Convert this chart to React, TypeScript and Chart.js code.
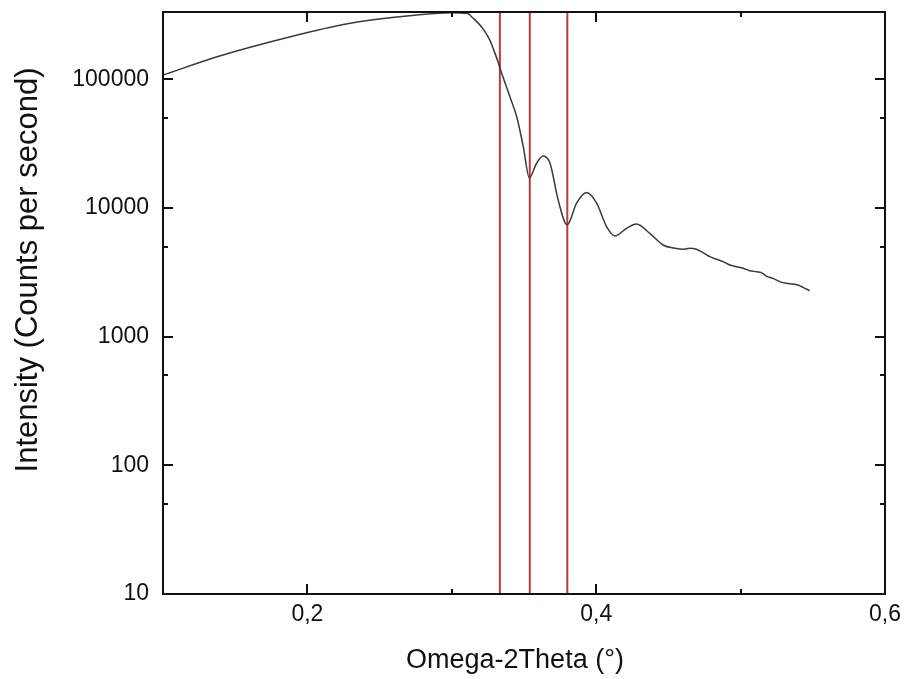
import React, { useEffect, useRef } from "react";
import { Chart, registerables } from "chart.js";

Chart.register(...registerables);

// ---- data ----
const omega2Theta = [
  0.1, 0.1375, 0.1835, 0.2297, 0.2758, 0.2988, 0.3104, 0.3149, 0.3219, 0.3265,
  0.3288, 0.3322, 0.3334, 0.3403, 0.345, 0.3495, 0.3537, 0.3588, 0.3633, 0.368,
  0.3737, 0.3799, 0.3864, 0.3934, 0.4003, 0.4072, 0.4129, 0.421, 0.4279, 0.4371,
  0.4463, 0.4545, 0.4602, 0.4648, 0.4694, 0.474, 0.4786, 0.4833, 0.4878, 0.4925,
  0.4971, 0.5017, 0.5063, 0.5109, 0.5144, 0.5178, 0.5224, 0.5271, 0.5317, 0.5362,
  0.5397, 0.5432, 0.5478,
];
const intensity = [
  108000, 150000, 208000, 273000, 316000, 330000, 326000, 298000, 245000, 200000,
  172000, 135000, 122000, 73000, 51000, 30000, 17200, 22400, 25400, 22300,
  11500, 7400, 10900, 13200, 10900, 7160, 6060, 6960, 7520, 6360,
  5160, 4870, 4780, 4870, 4780, 4500, 4190, 4000, 3830, 3610,
  3500, 3400, 3260, 3200, 3150, 2960, 2840, 2680, 2600, 2570,
  2520, 2420, 2280,
];
const markerLines = [0.3333, 0.354, 0.38];

const xMajorTicks = [0.2, 0.4, 0.6];
const xMinorTicks = [0.3, 0.5];
const yMajorTicks = [10, 100, 1000, 10000, 100000];
const yMinorTicks = [50, 500, 5000, 50000];

const X_MIN = 0.1;
const X_MAX = 0.6;
const Y_MIN = 10;
const Y_MAX = 334000;

const xTitle = "Omega-2Theta (°)";
const yTitle = "Intensity (Counts per second)";

const FONT = "'Liberation Sans', Arial, Helvetica, sans-serif";

const framePlugin = {
  id: "frameTicks",
  afterDatasetsDraw(chart: any) {
    const { ctx, chartArea, scales } = chart;
    const { left, right, top, bottom } = chartArea;
    const xs = scales.x;
    const ys = scales.y;
    ctx.save();
    ctx.strokeStyle = "#111";
    ctx.lineWidth = 2;
    ctx.strokeRect(left, top, right - left, bottom - top);
    const major = 10;
    const minor = 5;
    ctx.beginPath();
    const xt = (v: number, len: number) => {
      const p = Math.round(xs.getPixelForValue(v));
      ctx.moveTo(p, bottom);
      ctx.lineTo(p, bottom - len);
      ctx.moveTo(p, top);
      ctx.lineTo(p, top + len);
    };
    const yt = (v: number, len: number) => {
      const p = Math.round(ys.getPixelForValue(v));
      ctx.moveTo(left, p);
      ctx.lineTo(left + len, p);
      ctx.moveTo(right, p);
      ctx.lineTo(right - len, p);
    };
    xMajorTicks.forEach((v) => xt(v, major));
    xMinorTicks.forEach((v) => xt(v, minor));
    yMajorTicks.forEach((v) => yt(v, major));
    yMinorTicks.forEach((v) => yt(v, minor));
    ctx.stroke();

    // axis titles
    ctx.fillStyle = "#111";
    ctx.textAlign = "center";
    ctx.textBaseline = "middle";
    ctx.font = `27px ${FONT}`;
    ctx.fillText(xTitle, 515, 661);
    ctx.translate(28, 270);
    ctx.rotate(-Math.PI / 2);
    ctx.font = `31px ${FONT}`;
    ctx.fillText(yTitle, 0, 0);
    ctx.restore();
  },
};

const zeroPad = (s: any) => {
  s.paddingTop = 0;
  s.paddingBottom = 0;
  s.paddingLeft = 0;
  s.paddingRight = 0;
};

export default function App() {
  const canvasRef = useRef<HTMLCanvasElement | null>(null);

  useEffect(() => {
    if (!canvasRef.current) return;
    const curve = omega2Theta.map((x, i) => ({ x, y: intensity[i] }));
    const lineSets = markerLines.map((x) => ({
      type: "line" as const,
      data: [
        { x, y: Y_MIN },
        { x, y: Y_MAX },
      ],
      borderColor: "#bf3a3c",
      borderWidth: 2,
      pointRadius: 0,
      fill: false,
      tension: 0,
    }));
    const chart = new Chart(canvasRef.current, {
      type: "line",
      data: {
        datasets: [
          {
            data: curve,
            borderColor: "#3a3a3a",
            borderWidth: 1.5,
            pointRadius: 0,
            fill: false,
            cubicInterpolationMode: "monotone",
          } as any,
          ...lineSets,
        ],
      },
      options: {
        animation: false,
        responsive: true,
        maintainAspectRatio: false,
        layout: { padding: { top: 12, right: 20, left: 0, bottom: 0 } },
        plugins: {
          legend: { display: false },
          tooltip: { enabled: false },
        },
        scales: {
          x: {
            type: "linear",
            min: X_MIN,
            max: X_MAX,
            grid: { display: false, drawTicks: false },
            border: { display: false },
            afterBuildTicks: (s: any) => {
              s.ticks = xMajorTicks.map((value) => ({ value }));
            },
            afterFit: (s: any) => {
              s.height = 85;
              zeroPad(s);
            },
            ticks: {
              padding: 7,
              color: "#111",
              font: { family: FONT, size: 23 },
              maxRotation: 0,
              callback: (v: any) => Number(v).toFixed(1).replace(".", ","),
            },
          },
          y: {
            type: "logarithmic",
            min: Y_MIN,
            max: Y_MAX,
            grid: { display: false, drawTicks: false },
            border: { display: false },
            afterBuildTicks: (s: any) => {
              s.ticks = yMajorTicks.map((value) => ({ value }));
            },
            afterFit: (s: any) => {
              s.width = 163;
              zeroPad(s);
            },
            ticks: {
              padding: 14,
              color: "#111",
              font: { family: FONT, size: 23 },
              callback: (v: any) => String(v),
            },
          },
        },
      },
      plugins: [framePlugin],
    });
    return () => chart.destroy();
  }, []);

  return (
    <div
      style={{
        position: "fixed",
        left: 0,
        top: 0,
        width: 905,
        height: 679,
        background: "#fff",
      }}
    >
      <canvas ref={canvasRef} />
    </div>
  );
}
